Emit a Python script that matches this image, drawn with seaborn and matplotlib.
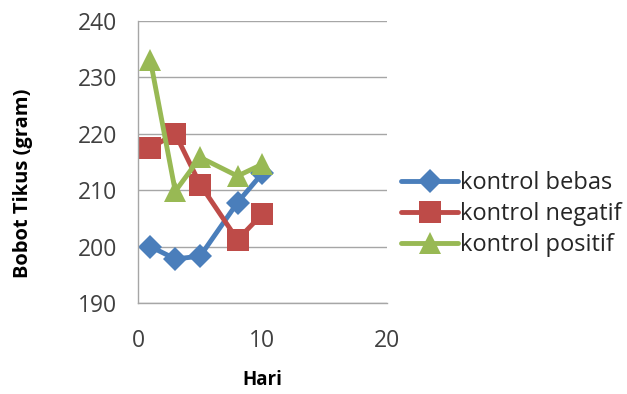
import matplotlib
matplotlib.use("Agg")
import matplotlib.pyplot as plt
import seaborn as sns
import pandas as pd

# Body weight of rats (gram) over days for the three control groups
hari = [1, 3, 5, 8, 10]
kontrol_bebas = [200.0, 197.8, 198.3, 207.8, 213.0]
kontrol_negatif = [217.5, 220.0, 211.0, 201.2, 205.8]
kontrol_positif = [233.0, 209.8, 215.8, 212.5, 214.6]

series = ["kontrol bebas", "kontrol negatif", "kontrol positif"]
colors = ["#4A7EBB", "#BE4B48", "#98B954"]
markers = ["D", "s", "^"]
marker_sizes = [12, 16, 16]

df = pd.DataFrame({
    "Hari": hari * 3,
    "Bobot": kontrol_bebas + kontrol_negatif + kontrol_positif,
    "Kelompok": [s for s in series for _ in hari],
})

sns.set_theme(style="white")
plt.rcParams["font.family"] = ["Open Sans", "DejaVu Sans"]

fig = plt.figure(figsize=(6.27, 3.94), dpi=100)
ax = fig.add_axes([0.22, 0.231, 0.397, 0.716])

for name, col, mk, ms in zip(series, colors, markers, marker_sizes):
    sub = df[df["Kelompok"] == name]
    sns.lineplot(data=sub, x="Hari", y="Bobot", ax=ax, color=col, lw=3.5,
                 marker=mk, markersize=ms, markeredgewidth=0, label=name)

ax.set_xlim(0, 20)
ax.set_ylim(190, 240)
ax.set_xticks([0, 10, 20])
ax.set_yticks(range(190, 241, 10))
ax.yaxis.grid(True, color="#A6A6A6", lw=1)
ax.xaxis.grid(False)
for s in ["top", "right"]:
    ax.spines[s].set_visible(False)
for s in ["left", "bottom"]:
    ax.spines[s].set_color("#A6A6A6")
    ax.spines[s].set_linewidth(1)
ax.tick_params(axis="both", which="both", direction="out", length=9,
               color="#A6A6A6", labelsize=16.5, labelcolor="#404040")
ax.tick_params(axis="x", pad=10)
ax.tick_params(axis="y", pad=6)
ax.set_xlabel("Hari", fontsize=13.5, fontweight="bold", labelpad=12, color="black")
ax.set_ylabel("Bobot Tikus (gram)", fontsize=14.5, fontweight="bold", color="black")
ax.yaxis.set_label_coords(-0.42, 0.425)

ax.get_legend().remove()
handles, labels = ax.get_legend_handles_labels()
leg = fig.legend(handles, labels, loc="center left", bbox_to_anchor=(0.625, 0.457),
                 frameon=False, fontsize=17, handlelength=2.4, handletextpad=0.1,
                 labelspacing=0.3, borderaxespad=0)
for t in leg.get_texts():
    t.set_color("#262626")

fig.savefig("out.png", dpi=100)
